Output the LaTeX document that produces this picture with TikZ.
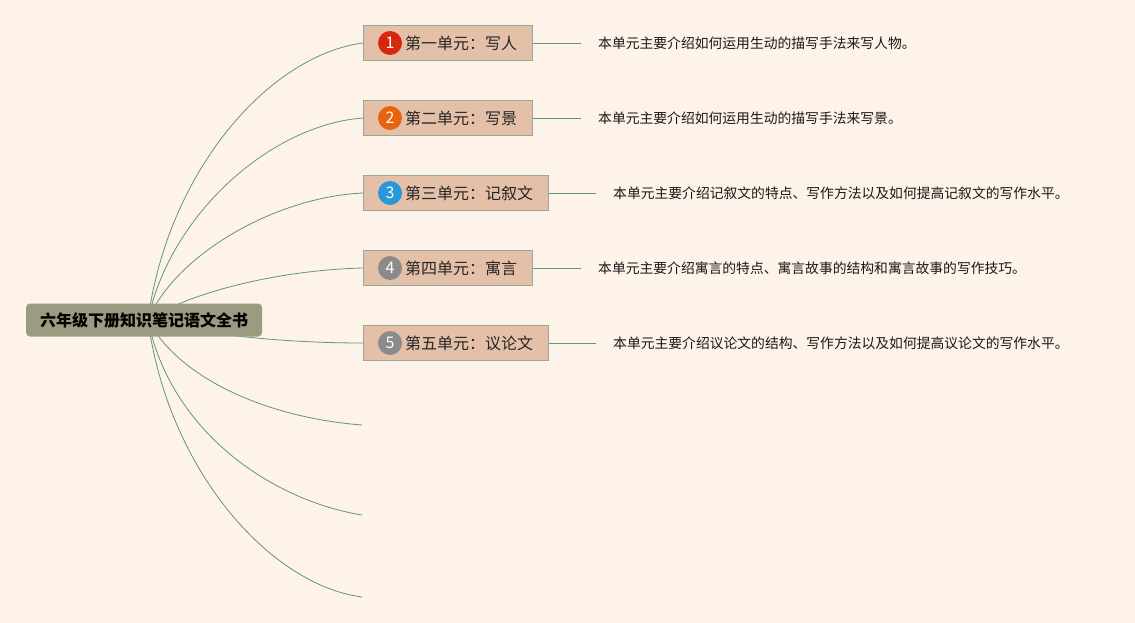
\documentclass[tikz,border=0pt]{standalone}
\usepackage{fontspec}
\setmainfont{Noto Sans CJK SC}
\definecolor{bg}{HTML}{FDF3E9}
\definecolor{rootfill}{HTML}{9A9B80}
\definecolor{boxfill}{HTML}{E5C0A9}
\definecolor{boxline}{HTML}{93AA98}
\definecolor{link}{HTML}{5F9683}
\definecolor{nred}{HTML}{D9260E}
\definecolor{norange}{HTML}{E8630F}
\definecolor{nblue}{HTML}{2A98D8}
\definecolor{ngray}{HTML}{8B8B8B}
\tikzset{
  rootbox/.style={draw=none, fill=rootfill, rounded corners=4pt, minimum width=236pt, minimum height=33pt, inner sep=0pt, font=\fontsize{16}{18}\selectfont\bfseries},
  unitbox/.style={draw=boxline, line width=1.2pt, fill=boxfill, minimum height=35pt, inner sep=0pt, anchor=west},
  unittext/.style={anchor=west, inner sep=0pt, font=\fontsize{16}{18}\selectfont, text=black!85},
  numdot/.style={circle, minimum size=24pt, inner sep=0pt, text=white, font=\fontsize{16}{18}\selectfont},
  desc/.style={anchor=west, inner sep=0pt, font=\fontsize{13.8}{16}\selectfont, text=black!90},
  branch/.style={draw=link, line width=0.8pt},
}
\begin{document}
\begin{tikzpicture}[x=1pt,y=-1pt]
\fill[bg] (0,0) rectangle (1135,623);
\useasboundingbox (0,0) rectangle (1135,623);
\coordinate (hub) at (148,320);
% units
\node[unitbox, minimum width=169pt] (b1) at (363,43) {};
\node[unitbox, minimum width=169pt] (b2) at (363,118) {};
\node[unitbox, minimum width=185pt] (b3) at (363,193) {};
\node[unitbox, minimum width=169pt] (b4) at (363,268) {};
\node[unitbox, minimum width=185pt] (b5) at (363,343) {};
\coordinate (e6) at (362,425);
\coordinate (e7) at (362,515);
\coordinate (e8) at (362,597);
% curves
\draw[branch] (hub) .. controls (168,170) and (270,55) .. (b1.west);
\draw[branch] (hub) .. controls (170,215) and (270,125) .. (b2.west);
\draw[branch] (hub) .. controls (175,255) and (275,197) .. (b3.west);
\draw[branch] (hub) .. controls (190,292) and (280,270) .. (b4.west);
\draw[branch] (hub) .. controls (210,336) and (290,343) .. (b5.west);
\draw[branch] (hub) .. controls (180,380) and (270,418) .. (e6);
\draw[branch] (hub) .. controls (170,430) and (270,500) .. (e7);
\draw[branch] (hub) .. controls (168,470) and (270,585) .. (e8);
% root
\node[rootbox] (root) at (144,320) {六年级下册知识笔记语文全书};
% labels
\node[numdot, fill=nred] (n1) at (390,43) {1};
\node[numdot, fill=norange] (n2) at (390,118) {2};
\node[numdot, fill=nblue] (n3) at (390,193) {3};
\node[numdot, fill=ngray] (n4) at (390,268) {4};
\node[numdot, fill=ngray] (n5) at (390,343) {5};
\node[unittext] (t1) at (405,43) {第一单元：写人};
\node[unittext] (t2) at (405,118) {第二单元：写景};
\node[unittext] (t3) at (405,193) {第三单元：记叙文};
\node[unittext] (t4) at (405,268) {第四单元：寓言};
\node[unittext] (t5) at (405,343) {第五单元：议论文};
% descriptions
\node[desc] (d1) at (598,43) {本单元主要介绍如何运用生动的描写手法来写人物。};
\node[desc] (d2) at (598,118) {本单元主要介绍如何运用生动的描写手法来写景。};
\node[desc] (d3) at (613,193) {本单元主要介绍记叙文的特点、写作方法以及如何提高记叙文的写作水平。};
\node[desc] (d4) at (598,268) {本单元主要介绍寓言的特点、寓言故事的结构和寓言故事的写作技巧。};
\node[desc] (d5) at (613,343) {本单元主要介绍议论文的结构、写作方法以及如何提高议论文的写作水平。};
\draw[branch] (b1.east) -- ([xshift=-17pt]d1.west);
\draw[branch] (b2.east) -- ([xshift=-17pt]d2.west);
\draw[branch] (b3.east) -- ([xshift=-17pt]d3.west);
\draw[branch] (b4.east) -- ([xshift=-17pt]d4.west);
\draw[branch] (b5.east) -- ([xshift=-17pt]d5.west);
\end{tikzpicture}
\end{document}
